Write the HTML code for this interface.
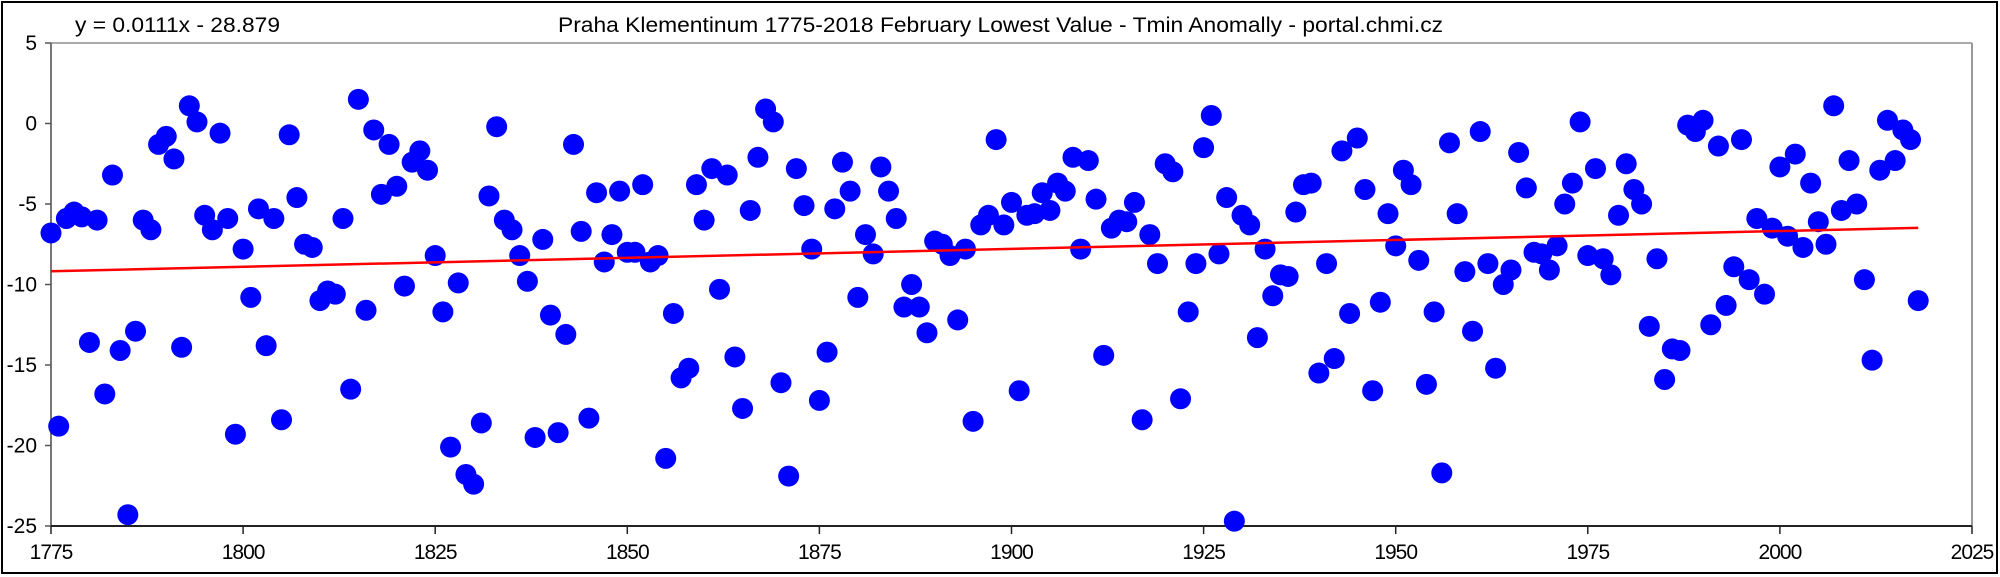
<!DOCTYPE html>
<html><head><meta charset="utf-8"><style>
html,body{margin:0;padding:0;background:#fff;}
svg{display:block;font-family:"Liberation Sans",Arial,sans-serif;}
</style></head><body>
<svg id="chart" width="2000" height="577" viewBox="0 0 2000 577" xmlns="http://www.w3.org/2000/svg">
<rect x="2" y="2" width="1995" height="571" fill="#fff" stroke="#000" stroke-width="2"/>
<text x="75" y="32" font-size="21" fill="#000" textLength="205" lengthAdjust="spacingAndGlyphs">y = 0.0111x - 28.879</text>
<text x="558" y="32" font-size="21" fill="#000" textLength="885" lengthAdjust="spacingAndGlyphs">Praha Klementinum 1775-2018 February Lowest Value - Tmin Anomally - portal.chmi.cz</text>
<g id="plot"></g>
</svg>
<script>
const startYear = 1775;
const values = [-6.8,-18.8,-5.9,-5.5,-5.8,-13.6,-6.0,-16.8,-3.2,-14.1,-24.3,-12.9,-6.0,-6.6,-1.3,-0.8,-2.2,-13.9,1.1,0.1,-5.7,-6.6,-0.6,-5.9,-19.3,-7.8,-10.8,-5.3,-13.8,-5.9,-18.4,-0.7,-4.6,-7.5,-7.7,-11.0,-10.4,-10.6,-5.9,-16.5,1.5,-11.6,-0.4,-4.4,-1.3,-3.9,-10.1,-2.4,-1.7,-2.9,-8.2,-11.7,-20.1,-9.9,-21.8,-22.4,-18.6,-4.5,-0.2,-6.0,-6.6,-8.2,-9.8,-19.5,-7.2,-11.9,-19.2,-13.1,-1.3,-6.7,-18.3,-4.3,-8.6,-6.9,-4.2,-8.0,-8.0,-3.8,-8.6,-8.2,-20.8,-11.8,-15.8,-15.2,-3.8,-6.0,-2.8,-10.3,-3.2,-14.5,-17.7,-5.4,-2.1,0.9,0.1,-16.1,-21.9,-2.8,-5.1,-7.8,-17.2,-14.2,-5.3,-2.4,-4.2,-10.8,-6.9,-8.1,-2.7,-4.2,-5.9,-11.4,-10.0,-11.4,-13.0,-7.3,-7.5,-8.2,-12.2,-7.8,-18.5,-6.3,-5.7,-1.0,-6.3,-4.9,-16.6,-5.7,-5.6,-4.3,-5.4,-3.7,-4.2,-2.1,-7.8,-2.3,-4.7,-14.4,-6.5,-6.0,-6.1,-4.9,-18.4,-6.9,-8.7,-2.5,-3.0,-17.1,-11.7,-8.7,-1.5,0.5,-8.1,-4.6,-24.7,-5.7,-6.3,-13.3,-7.8,-10.7,-9.4,-9.5,-5.5,-3.8,-3.7,-15.5,-8.7,-14.6,-1.7,-11.8,-0.9,-4.1,-16.6,-11.1,-5.6,-7.6,-2.9,-3.8,-8.5,-16.2,-11.7,-21.7,-1.2,-5.6,-9.2,-12.9,-0.5,-8.7,-15.2,-10.0,-9.1,-1.8,-4.0,-8.0,-8.1,-9.1,-7.6,-5.0,-3.7,0.1,-8.2,-2.8,-8.4,-9.4,-5.7,-2.5,-4.1,-5.0,-12.6,-8.4,-15.9,-14.0,-14.1,-0.1,-0.5,0.2,-12.5,-1.4,-11.3,-8.9,-1.0,-9.7,-5.9,-10.6,-6.5,-2.7,-7.0,-1.9,-7.7,-3.7,-6.1,-7.5,1.1,-5.4,-2.3,-5.0,-9.7,-14.7,-2.9,0.2,-2.3,-0.4,-1.0,-11.0];
const xTicks = [1775,1800,1825,1850,1875,1900,1925,1950,1975,2000,2025];
const yTicks = [5,0,-5,-10,-15,-20,-25];
const trendSlope = 0.0111;
const trendIntercept = -28.879;

const L=51,R=1972,T=43,B=526;
const xMin=1775,xMax=2025,yMin=-25,yMax=5;
const sx=v=>L+(v-xMin)/(xMax-xMin)*(R-L);
const sy=v=>B-(v-yMin)/(yMax-yMin)*(B-T);
const NS='http://www.w3.org/2000/svg';
const g=document.getElementById('plot');
function mk(tag,attrs){const e=document.createElementNS(NS,tag);for(const k in attrs)e.setAttribute(k,attrs[k]);g.appendChild(e);return e;}

let e;
e=mk('line',{x1:L,y1:T,x2:R,y2:T,stroke:'#aaa','stroke-width':2});


e=mk('line',{x1:R,y1:T,x2:R,y2:B,stroke:'#999','stroke-width':2});


e=mk('line',{x1:L,y1:T,x2:L,y2:B,stroke:'#777','stroke-width':2});


e=mk('line',{x1:L,y1:B,x2:R,y2:B,stroke:'#222','stroke-width':2});



yTicks.forEach(v=>{
  const y=sy(v);
  e=mk('line',{x1:L-6,y1:y,x2:L,y2:y,stroke:'#555','stroke-width':1.5});
  
  
  e=mk('text',{x:L-14,y:y+7,'font-size':21,'text-anchor':'end',fill:'#000'});
  e.textContent=v;
  
  
});
xTicks.forEach(v=>{
  const x=sx(v);
  e=mk('line',{x1:x,y1:B,x2:x,y2:B+8,stroke:'#222','stroke-width':1.5});
  
  
  e=mk('text',{x:x,y:B+33,'font-size':21,'text-anchor':'middle',fill:'#000','letter-spacing':'-1'});
  e.textContent=v;
  
  
});

values.forEach((v,i)=>{
  const yr=startYear+i;
  e=mk('circle',{cx:sx(yr),cy:sy(v),r:10.5,fill:'#0000ff'});
  
  
});

const x0=startYear,x1=startYear+values.length-1;
e=mk('line',{x1:sx(x0),y1:sy(trendSlope*x0+trendIntercept),x2:sx(x1),y2:sy(trendSlope*x1+trendIntercept),stroke:'#ff0000','stroke-width':2.5});


</script>
</body></html>
